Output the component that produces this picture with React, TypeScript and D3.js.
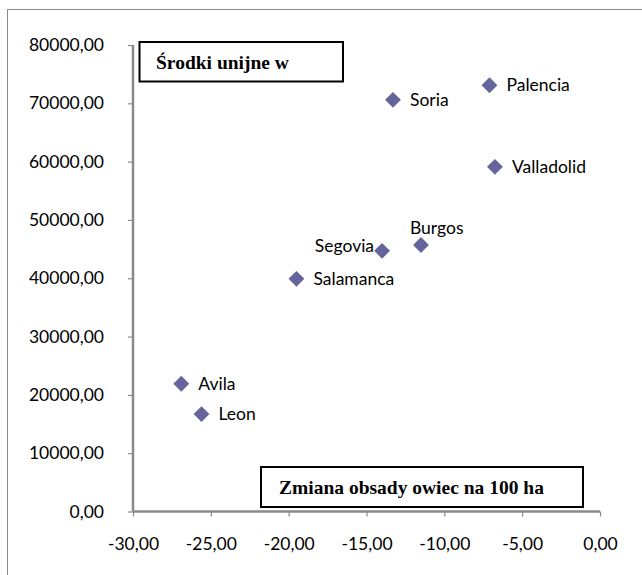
import React, { useEffect, useRef } from 'react';
import * as d3 from 'd3';

// regions
const regions = ['Palencia', 'Soria', 'Valladolid', 'Burgos', 'Segovia', 'Salamanca', 'Avila', 'Leon'];
// change of sheep stocking per 100 ha
const sheepChange = [-7.1, -13.3, -6.75, -11.5, -14.0, -19.5, -26.9, -25.6];
// EU funds
const euFunds = [73100, 70600, 59100, 45700, 44700, 39900, 21900, 16700];

const xTicks = [-30, -25, -20, -15, -10, -5, 0];
const yTicks = [0, 10000, 20000, 30000, 40000, 50000, 60000, 70000, 80000];

const yTitle = 'Środki unijne w';
const xTitle = 'Zmiana obsady owiec na 100 ha';

const ScatterChart: React.FC = () => {
  const ref = useRef<SVGSVGElement>(null);

  useEffect(() => {
    if (!ref.current) return;
    const width = 642;
    const height = 575;
    const axisColor = '#8a8a8a';
    const labelFont = 'Lato, "Open Sans", sans-serif';
    const titleFont = '"Liberation Serif", "Times New Roman", serif';

    const svg = d3.select(ref.current)
      .attr('width', width)
      .attr('height', height);
    svg.selectAll('*').remove();

    svg.append('rect')
      .attr('width', width)
      .attr('height', height)
      .attr('fill', '#fff');

    // outer chart border (only top/left visible in the crop)
    svg.append('rect')
      .attr('x', 7.5)
      .attr('y', 9.5)
      .attr('width', 700)
      .attr('height', 700)
      .attr('fill', 'none')
      .attr('stroke', '#8a8a8a');

    const x = d3.scaleLinear().domain([-30, 0]).range([133, 600]);
    const y = d3.scaleLinear().domain([0, 80000]).range([511.5, 45]);

    const locale = d3.formatLocale({ decimal: ',', thousands: '', grouping: [3], currency: ['', ''], minus: '-' });
    const fmt = locale.format('.2f');

    // y axis
    const yAxis = svg.append('g')
      .attr('transform', `translate(${x(-30)},0)`)
      .call(d3.axisLeft(y).tickValues(yTicks).tickSize(5).tickPadding(24).tickFormat(d => fmt(d as number)));
    yAxis.select('.domain').attr('stroke', axisColor).attr('stroke-width', 2.5)
      .attr('d', `M0,${y(80000)}V${y(0)}`);
    yAxis.selectAll('.tick line').attr('stroke', axisColor).attr('stroke-width', 1.2);
    yAxis.selectAll('.tick text')
      .attr('fill', '#000')
      .attr('font-family', labelFont)
      .attr('font-size', 17.5);

    // x axis
    const xAxis = svg.append('g')
      .attr('transform', `translate(0,${y(0)})`)
      .call(d3.axisBottom(x).tickValues(xTicks).tickSize(5).tickPadding(21).tickFormat(d => fmt(d as number)));
    xAxis.select('.domain').attr('stroke', axisColor).attr('stroke-width', 2.5)
      .attr('d', `M${x(-30)},0H${x(0)}`);
    xAxis.selectAll('.tick line').attr('stroke', axisColor).attr('stroke-width', 1.2);
    xAxis.selectAll('.tick text')
      .attr('fill', '#000')
      .attr('font-family', labelFont)
      .attr('font-size', 17.5);

    const data = regions.map((name, i) => ({ name, dx: sheepChange[i], eu: euFunds[i] }));

    // markers
    const diamond = d3.symbol().type(d3.symbolDiamond2).size(160);
    svg.append('g')
      .selectAll('path')
      .data(data)
      .join('path')
      .attr('d', diamond as any)
      .attr('transform', d => `translate(${x(d.dx)},${y(d.eu)})`)
      .attr('fill', '#65659c');

    // point labels: most sit right of the marker
    const place = (name: string) => {
      if (name === 'Segovia') return { dx: -8, dy: -5, anchor: 'end' };
      if (name === 'Burgos') return { dx: -11, dy: -17, anchor: 'start' };
      return { dx: 17, dy: 0, anchor: 'start' };
    };
    svg.append('g')
      .selectAll('text')
      .data(data)
      .join('text')
      .attr('x', d => x(d.dx) + place(d.name).dx)
      .attr('y', d => y(d.eu) + place(d.name).dy)
      .attr('dy', '0.35em')
      .attr('text-anchor', d => place(d.name).anchor)
      .attr('font-family', labelFont)
      .attr('font-size', 17.5)
      .attr('fill', '#000')
      .text(d => d.name);

    // title boxes
    const boxes = [
      { text: yTitle, x0: 139.5, y0: 42, x1: 343, y1: 81.5, tx: 156 },
      { text: xTitle, x0: 261, y0: 467, x1: 583, y1: 507, tx: 279 },
    ];
    const bg = svg.append('g').selectAll('g').data(boxes).join('g');
    bg.append('rect')
      .attr('x', d => d.x0)
      .attr('y', d => d.y0)
      .attr('width', d => d.x1 - d.x0)
      .attr('height', d => d.y1 - d.y0)
      .attr('fill', '#fff')
      .attr('stroke', '#000')
      .attr('stroke-width', 2);
    bg.append('text')
      .attr('x', d => d.tx)
      .attr('y', d => (d.y0 + d.y1) / 2)
      .attr('dy', '0.35em')
      .attr('font-family', titleFont)
      .attr('font-weight', 'bold')
      .attr('font-size', 19.5)
      .attr('fill', '#000')
      .text(d => d.text);
  }, []);

  return <svg ref={ref} style={{ position: 'absolute', left: 0, top: 0 }}></svg>;
};

export default function App() {
  return <ScatterChart />;
}
